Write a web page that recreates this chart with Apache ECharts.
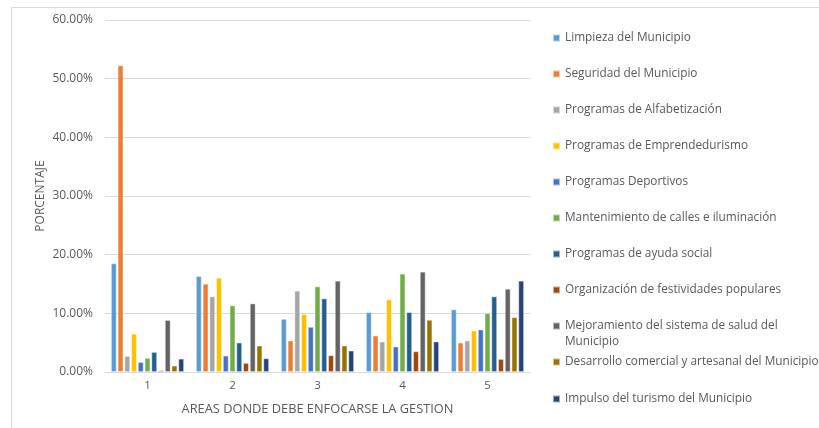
<!DOCTYPE html>
<html>
<head>
<meta charset="utf-8">
<script src="https://cdn.jsdelivr.net/npm/echarts@6/dist/echarts.min.js"></script>
<style>
  html, body { margin: 0; padding: 0; background: #fff; }
  #chart { width: 819px; height: 428px; }
</style>
</head>
<body>
<div id="chart"></div>
<script>
// Areas (x categories)
const categories = ['1', '2', '3', '4', '5'];

// Percentages per area, one array per management area
const limpieza        = [18.52, 16.35, 9.06, 10.20, 10.66];
const seguridad       = [52.27, 15.04, 5.36, 6.21, 5.01];
const alfabetizacion  = [2.73, 12.88, 13.85, 5.19, 5.36];
const emprendedurismo = [6.53, 16.07, 9.86, 12.36, 7.07];
const deportivos      = [1.70, 2.79, 7.69, 4.33, 7.24];
const mantenimiento   = [2.39, 11.34, 14.59, 16.75, 10.03];
const ayudaSocial     = [3.41, 5.01, 12.54, 10.20, 12.88];
const festividades    = [0.28, 1.54, 2.85, 3.53, 2.22];
const salud           = [8.86, 11.68, 15.56, 17.09, 14.19];
const desarrollo      = [1.08, 4.50, 4.50, 8.89, 9.34];
const turismo         = [2.27, 2.34, 3.65, 5.19, 15.56];

const seriesNames = [
  'Limpieza del Municipio',
  'Seguridad del Municipio',
  'Programas de Alfabetización',
  'Programas de Emprendedurismo',
  'Programas Deportivos',
  'Mantenimiento de calles e iluminación',
  'Programas de ayuda social',
  'Organización de festividades populares',
  'Mejoramiento del sistema de salud del Municipio',
  'Desarrollo comercial y artesanal del Municipio',
  'Impulso del turismo del Municipio'
];
const seriesValues = [limpieza, seguridad, alfabetizacion, emprendedurismo, deportivos,
  mantenimiento, ayudaSocial, festividades, salud, desarrollo, turismo];

// Y axis ticks (percent)
const yMin = 0, yMax = 60, yStep = 10;

const colors = ['#5B9BD5', '#ED7D31', '#A5A5A5', '#FFC000', '#4472C4', '#70AD47',
  '#255E91', '#9E480E', '#636363', '#997300', '#264478'];

const FONT = 'Open Sans';
const TEXT = '#595959';
const chart = echarts.init(document.getElementById('chart'), null, { renderer: 'canvas' });

// Shared look of the legend blocks on the right
const legendBase = {
  orient: 'vertical',
  left: 552,
  padding: 0,
  itemWidth: 7,
  itemHeight: 7,
  itemGap: 20,
  icon: 'rect',
  textStyle: { fontFamily: FONT, fontSize: 11.8, color: TEXT, lineHeight: 16 }
};

chart.setOption({
  backgroundColor: '#ffffff',
  color: colors,
  animation: false,
  graphic: [{
    type: 'rect',
    shape: { x: 11.5, y: 7.5, width: 900, height: 500 },
    style: { fill: 'none', stroke: '#d9d9d9', lineWidth: 1 },
    silent: true
  }],
  grid: { left: 105, right: 289, top: 20, bottom: 56 },
  legend: [
    Object.assign({}, legendBase, { top: 30, data: seriesNames.slice(0, 8) }),
    // two-line entry: icon sits beside the first line of text
    Object.assign({}, legendBase, {
      top: 302,
      data: [seriesNames[8]],
      formatter: name => '\n' + name.replace('salud del Municipio', 'salud del\nMunicipio')
    }),
    Object.assign({}, legendBase, { top: 354, itemGap: 21, data: seriesNames.slice(9) })
  ],
  xAxis: {
    type: 'category',
    data: categories,
    name: 'AREAS DONDE DEBE ENFOCARSE LA GESTION',
    nameLocation: 'middle',
    nameGap: 31,
    nameMoveOverlap: false,
    nameTextStyle: { fontFamily: FONT, fontSize: 12.8, color: TEXT },
    axisLine: { show: true, lineStyle: { color: '#d9d9d9' } },
    axisTick: { show: false },
    axisLabel: { fontFamily: FONT, fontSize: 11.5, color: TEXT, margin: 8 }
  },
  yAxis: {
    type: 'value',
    min: yMin,
    max: yMax,
    interval: yStep,
    name: 'PORCENTAJE',
    nameLocation: 'middle',
    nameGap: 58,
    nameMoveOverlap: false,
    nameTextStyle: { fontFamily: FONT, fontSize: 12, color: TEXT },
    axisLine: { show: false },
    axisTick: { show: false },
    splitLine: { lineStyle: { color: '#d9d9d9', width: 1 } },
    axisLabel: {
      fontFamily: FONT, fontSize: 12, color: TEXT, margin: 12,
      formatter: v => v.toFixed(2) + '%'
    }
  },
  series: seriesNames.map((name, i) => ({
    name: name,
    type: 'bar',
    data: seriesValues[i],
    barGap: '18%',
    barCategoryGap: '14%',
    itemStyle: { borderColor: 'rgba(255,255,255,0.55)', borderWidth: 0.8 }
  }))
});
</script>
</body>
</html>
